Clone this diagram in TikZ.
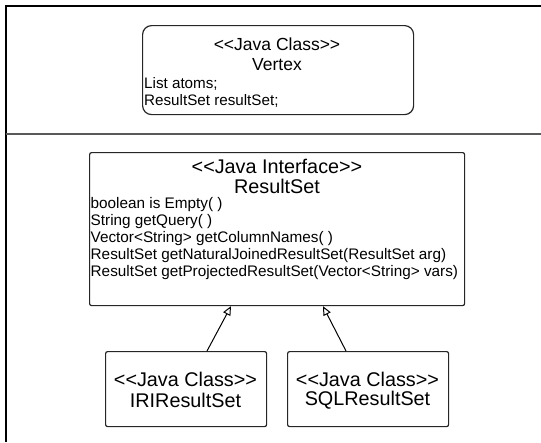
\documentclass[tikz,border=0pt]{standalone}
\usepackage{fontspec}
\setmainfont{Liberation Sans}[Ligatures=TeXOff]
\usetikzlibrary{arrows.meta}
\begin{document}
\begin{tikzpicture}[x=1pt,y=-1pt,
  boxr/.style={draw=black!85, line width=1.2pt, rounded corners=9pt, inner sep=0pt, anchor=north west},
  boxs/.style={draw=black!85, line width=1.2pt, rounded corners=2pt, inner sep=0pt, anchor=north west},
  headv/.style={inner sep=0pt, anchor=center, font=\fontsize{17.5}{20}\selectfont},
  head/.style={inner sep=0pt, anchor=center, font=\fontsize{19.8}{22}\selectfont},
  body/.style={inner sep=0pt, anchor=west, font=\fontsize{15.3}{17}\selectfont},
  bodyv/.style={inner sep=0pt, anchor=west, font=\fontsize{15.2}{17}\selectfont},
  inh/.style={line width=1pt, -{Triangle[open,length=9pt,width=8pt]}}]
\useasboundingbox (0,0) rectangle (541,442);
% frame
\draw[line width=2pt, line join=miter] (6,442) -- (6,6) -- (541,6);
\draw[line width=1.4pt, black!65] (6,134) -- (541,134);
% Vertex
\node[boxr, minimum width=271pt, minimum height=89pt] (vertex) at (142,25) {};
\node[headv] (vst) at (277,44) {<<Java Class>>};
\node[headv] (vname) at (277,65) {Vertex};
\node[bodyv] (va1) at (144,84) {List atoms;};
\node[bodyv] (va2) at (144,101) {ResultSet resultSet;};
% ResultSet
\node[boxs, minimum width=375pt, minimum height=153pt] (rs) at (89,152) {};
\node[head] (rsst) at (277,166) {<<Java Interface>>};
\node[head] (rsname) at (277,186) {ResultSet};
\node[body] (m1) at (90.5,205) {boolean is Empty( )};
\node[body] (m2) at (90.5,222) {String getQuery( )};
\node[body] (m3) at (90.5,239) {Vector<String> getColumnNames( )};
\node[body] (m4) at (90.5,256) {ResultSet getNaturalJoinedResultSet(ResultSet arg)};
\node[body] (m5) at (90.5,273) {ResultSet getProjectedResultSet(Vector<String> vars)};
% subclasses
\node[boxs, minimum width=161pt, minimum height=75pt] (iri) at (105,351) {};
\node[head] (irist) at (185.5,379) {<<Java Class>>};
\node[head] (iriname) at (185.5,400) {IRIResultSet};
\node[boxs, minimum width=161pt, minimum height=75pt] (sql) at (287,351) {};
\node[head] (sqlst) at (367.5,379) {<<Java Class>>};
\node[head] (sqlname) at (367.5,400) {SQLResultSet};
% inheritance arrows
\draw[inh] ([xshift=102pt]iri.north west) -- ([xshift=142pt]rs.south west);
\draw[inh] ([xshift=59pt]sql.north west) -- ([xshift=234pt]rs.south west);
\end{tikzpicture}
\end{document}
